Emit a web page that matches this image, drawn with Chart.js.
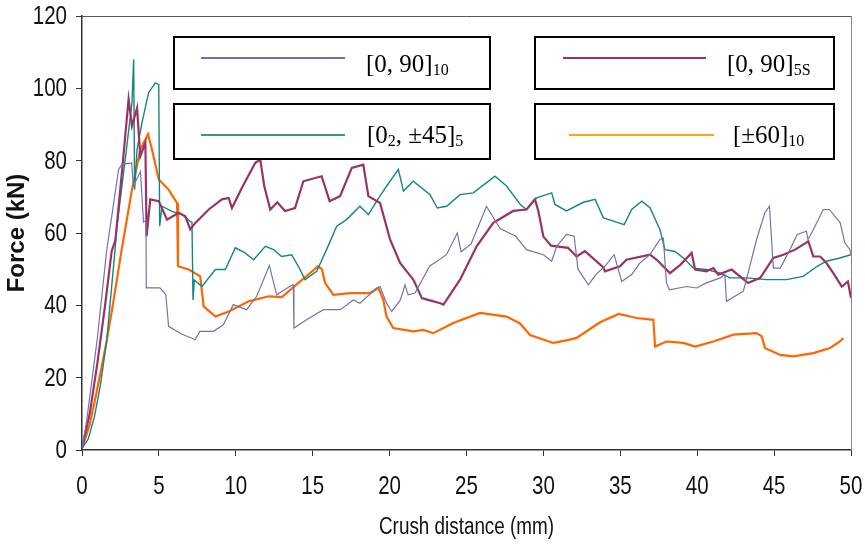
<!DOCTYPE html>
<html>
<head>
<meta charset="utf-8">
<script src="https://cdn.jsdelivr.net/npm/chart.js@4"></script>
<style>
  html, body { margin: 0; padding: 0; background: #fff; }
</style>
</head>
<body>
<canvas id="myChart" width="865" height="545"></canvas>
<script>
// Datos: distancia de aplastamiento (mm) y fuerza (kN)
const xTicks = [0, 5, 10, 15, 20, 25, 30, 35, 40, 45, 50];
const yTicks = [0, 20, 40, 60, 80, 100, 120];

const seriesNames = ['[0, 90]10', '[0, 90]5S', '[02, ±45]5', '[±60]10'];

const blueX = [0, 0.3, 1.0, 1.6, 2.38, 2.6, 3.23, 3.34, 3.8, 4.0, 4.16, 4.18, 5.07, 5.45, 5.63, 6.5, 7.15, 7.35, 7.67, 8.54, 9.19, 9.84, 10.7, 11.36, 12.18, 12.66, 13.5, 13.74, 13.78, 14.6, 15.7, 16.8, 17.64, 18.07, 19.16, 19.38, 19.8, 20.14, 20.7, 21.0, 21.2, 21.65, 22.6, 23.7, 24.4, 24.65, 25.3, 26.3, 27.18, 28.2, 28.9, 30.0, 30.54, 30.86, 31.5, 32.0, 32.25, 32.92, 33.46, 34.0, 34.6, 35.09, 35.74, 36.28, 36.93, 37.58, 37.8, 38.0, 38.2, 39.3, 39.96, 40.6, 41.5, 41.8, 41.9, 43.0, 43.2, 43.86, 44.4, 44.7, 44.95, 45.4, 46.03, 46.5, 47.1, 47.2, 47.55, 48.2, 48.6, 49.3, 49.6, 49.93, 50];
const blueY = [0.5, 8, 31, 55, 77.6, 79, 79.4, 73, 77, 63, 63.5, 44.8, 44.8, 43, 34.2, 32, 30.9, 30.5, 32.8, 32.8, 34.6, 40.2, 38.8, 42.5, 51, 42.9, 45.2, 45.7, 33.7, 36, 38.8, 38.8, 41.5, 40.6, 44.8, 45.2, 40.6, 38.3, 41.5, 45.7, 42.9, 43.4, 50.8, 54, 60, 54.8, 57, 67.4, 61.2, 59.1, 55.4, 54, 52.2, 56.3, 59.6, 59.1, 50, 45.7, 48.7, 50.8, 54, 46.6, 48.5, 51.7, 54, 58.2, 58.6, 46.2, 44.3, 45.2, 44.8, 46.2, 47.6, 48.5, 41.1, 43.9, 47.1, 58.2, 65.6, 67.4, 50.3, 50.3, 55.4, 59.6, 60.5, 58.2, 60.9, 66.5, 66.5, 62.8, 57.3, 55.4, 54];

const magentaX = [0, 0.5, 1.0, 1.5, 1.93, 2.17, 2.6, 3.03, 3.25, 3.58, 3.79, 4.12, 4.2, 4.44, 4.99, 5.53, 6.28, 6.72, 7.04, 7.37, 8.24, 9.1, 9.54, 9.75, 10.4, 11.27, 11.59, 11.85, 12.24, 12.7, 13.2, 13.85, 14.39, 15.58, 16.1, 16.78, 17.54, 18.29, 18.62, 19.38, 20.03, 20.68, 21.54, 22.1, 22.5, 23.3, 23.5, 24.58, 25.66, 26.74, 28.04, 28.9, 29.45, 29.67, 30.0, 30.5, 31.6, 32.16, 32.7, 33.9, 34.0, 34.98, 35.4, 36.93, 37.37, 38.23, 38.9, 39.64, 39.86, 40.6, 41.05, 41.37, 42.24, 42.9, 43.3, 44.1, 44.95, 45.6, 46.36, 47.23, 47.55, 48.0, 48.4, 48.85, 49.4, 49.8, 50];
const magentaY = [0.5, 10, 24, 40, 55, 58, 77, 97, 89.6, 94.6, 81.2, 85, 59.1, 69.3, 68.8, 63.7, 65.6, 64.6, 61, 62.8, 66.5, 69.3, 69.7, 66.9, 72.5, 79.4, 80.3, 73, 66.5, 68.5, 66.1, 66.9, 74.3, 75.7, 68.8, 70.2, 78, 78.9, 70.2, 68.3, 58.2, 51.7, 47.1, 42, 41.5, 40.6, 40.2, 47.1, 56.3, 62.8, 66.1, 66.5, 69.3, 66.1, 59, 56.5, 55.9, 53.5, 55, 50.5, 49.4, 50.8, 52.6, 54, 52.6, 48.9, 51.2, 54.5, 49.9, 49.4, 50.3, 48.5, 49.9, 47.6, 46.2, 47.6, 53.1, 54, 55.4, 57.7, 53.5, 53.5, 51.7, 48.9, 45.2, 46.6, 42];

const tealX = [0, 0.4, 0.8, 1.2, 1.6, 2.15, 2.25, 2.8, 3.25, 3.36, 3.42, 3.58, 3.9, 4.33, 4.77, 4.99, 5.05, 5.2, 5.85, 6.5, 7.04, 7.15, 7.22, 7.3, 7.8, 8.67, 9.32, 9.97, 10.6, 11.16, 11.92, 12.46, 12.98, 13.63, 14.07, 14.5, 15.26, 15.9, 16.56, 17.2, 18.07, 18.62, 19.16, 19.81, 20.57, 20.9, 21.54, 22.63, 23.1, 23.71, 24.58, 25.44, 26.85, 27.6, 28.5, 28.9, 29.56, 30.54, 30.75, 31.5, 32.6, 33.36, 33.9, 34.6, 35.25, 35.74, 36.4, 36.93, 37.58, 37.9, 38.56, 39.1, 39.75, 40.6, 41.5, 42.13, 43.2, 44.5, 45.8, 46.9, 47.8, 48.4, 49.28, 50];
const tealY = [0.5, 3, 9, 18, 30, 55.4, 61, 80, 96, 108, 72, 83.1, 90.5, 98.8, 101.5, 101.1, 61.9, 67.4, 66, 65.1, 63.2, 63, 41.5, 47, 45.2, 49.9, 49.9, 55.9, 54.5, 52.6, 56.3, 55.4, 53.5, 54, 50.8, 47.1, 49.4, 55.4, 61.9, 63.7, 67.4, 65.1, 68.8, 73, 77.6, 71.6, 74.3, 70.6, 66.9, 67.4, 70.6, 71.1, 75.7, 73, 67.9, 66.5, 69.7, 71.1, 67.9, 66.1, 68.5, 69.3, 64.2, 63.2, 62.3, 66.5, 68.8, 67, 60.9, 55.4, 54.9, 53.1, 50.3, 49.9, 48.9, 47.6, 47.6, 47.1, 47.1, 48, 50.8, 52.2, 53.1, 54];

const orangeX = [0, 0.5, 1.0, 1.6, 2.0, 2.58, 3.25, 3.79, 4.29, 4.55, 4.99, 5.63, 6.18, 6.24, 6.94, 7.69, 7.91, 8.67, 9.54, 10.84, 12.14, 13.0, 14.07, 15.36, 15.6, 15.8, 16.34, 17.43, 18.73, 19.27, 19.59, 19.8, 20.24, 21.54, 22.2, 22.84, 24.14, 25.88, 27.6, 28.48, 29.13, 30.64, 31.5, 32.16, 33.68, 34.9, 36.07, 37.15, 37.26, 38.0, 39.1, 39.86, 41.05, 42.35, 43.86, 44.2, 44.4, 45.4, 46.25, 47.55, 48.64, 49.28, 49.5];
const orangeY = [0.5, 7, 17, 30, 40, 55.4, 72, 83.1, 87.3, 83.1, 74.8, 72, 68.3, 50.8, 49.9, 48, 39.7, 36.9, 38.3, 41.1, 42.5, 42.3, 46.2, 50.8, 50, 46.2, 42.9, 43.4, 43.4, 44.8, 41.5, 36.9, 33.7, 32.8, 33.2, 32.3, 35.1, 37.9, 36.9, 35, 31.8, 29.6, 30.3, 31, 35.3, 37.6, 36.5, 36, 28.6, 30, 29.6, 28.6, 30, 31.9, 32.3, 31.4, 28.2, 26.3, 25.9, 26.8, 28.2, 30, 31];

function puntos(xs, ys) {
  return xs.map((x, i) => ({ x: x, y: ys[i] }));
}

// Leyenda en cajas separadas, con subindices
const legendItems = [
  { parts: [['[0, 90]', false], ['10', true]], color: '#6f6db3', box: [174, 37, 316, 52], line: [201, 345, 58], text: [366, 72] },
  { parts: [['[0, 90]', false], ['5S', true]], color: '#9b3068', box: [535, 37, 299, 52], line: [563, 706, 58], text: [727, 72] },
  { parts: [['[0', false], ['2', true], [', ±45]', false], ['5', true]], color: '#3a9a6a', box: [174, 104, 316, 55], line: [201, 345, 135], text: [367, 143] },
  { parts: [['[±60]', false], ['10', true]], color: '#ffa31a', box: [535, 104, 299, 55], line: [569, 714, 135], text: [733, 143] }
];

// texto estrecho como en la figura original (escala horizontal)
function textoEstrecho(ctx, txt, x, y, align) {
  ctx.save();
  ctx.translate(x, y);
  ctx.scale(0.82, 1);
  ctx.textAlign = align;
  ctx.fillText(txt, 0, 0);
  ctx.restore();
}

const boxLegend = {
  id: 'boxLegend',
  afterDatasetsDraw(chart) {
    const ctx = chart.ctx;
    const area = chart.chartArea;
    ctx.save();
    // marco superior y derecho
    ctx.lineWidth = 1;
    ctx.beginPath();
    ctx.moveTo(area.left, area.top + 0.5);
    ctx.lineTo(area.right + 0.5, area.top + 0.5);
    ctx.strokeStyle = '#555';
    ctx.stroke();
    ctx.beginPath();
    ctx.moveTo(area.right + 0.5, area.top);
    ctx.lineTo(area.right + 0.5, area.bottom);
    ctx.strokeStyle = '#888';
    ctx.stroke();

    legendItems.forEach(function(item) {
      const b = item.box;
      ctx.fillStyle = '#fff';
      ctx.fillRect(b[0], b[1], b[2], b[3]);
      ctx.lineWidth = 2;
      ctx.strokeStyle = '#000';
      ctx.strokeRect(b[0], b[1], b[2], b[3]);
      ctx.lineWidth = 2;
      ctx.strokeStyle = item.color;
      ctx.beginPath();
      ctx.moveTo(item.line[0], item.line[2]);
      ctx.lineTo(item.line[1], item.line[2]);
      ctx.stroke();
      let x = item.text[0];
      ctx.fillStyle = '#000';
      ctx.textBaseline = 'alphabetic';
      ctx.textAlign = 'left';
      item.parts.forEach(function(p) {
        if (p[1]) {
          ctx.font = '16px "Liberation Serif", serif';
          ctx.fillText(p[0], x, item.text[1] + 3);
        } else {
          ctx.font = '25px "Liberation Serif", serif';
          ctx.fillText(p[0], x, item.text[1]);
        }
        x += ctx.measureText(p[0]).width;
      });
    });
    ctx.restore();
  },
  afterDraw(chart) {
    // etiquetas de los ejes, en las posiciones que dan las escalas
    const ctx = chart.ctx;
    const sx = chart.scales.x;
    const sy = chart.scales.y;
    ctx.save();
    ctx.fillStyle = '#111';
    ctx.textBaseline = 'middle';
    ctx.font = '25px "Liberation Sans", Arial, sans-serif';
    sx.ticks.forEach(function(t) {
      textoEstrecho(ctx, String(t.value), sx.getPixelForValue(t.value), sx.top + 37, 'center');
    });
    sy.ticks.forEach(function(t) {
      textoEstrecho(ctx, String(t.value), sy.right - 15, sy.getPixelForValue(t.value) + 1, 'right');
    });
    ctx.font = '23px "Liberation Sans", Arial, sans-serif';
    textoEstrecho(ctx, 'Crush distance (mm)', (sx.left + sx.right) / 2, sx.top + 78, 'center');
    ctx.restore();
  }
};

const canva = document.getElementById('myChart').getContext('2d');

const myChart = new Chart(canva, {
  type: 'line',
  data: {
    datasets: [
      { label: seriesNames[0], data: puntos(blueX, blueY), borderColor: '#7672b0', borderWidth: 1.2 },
      { label: seriesNames[1], data: puntos(magentaX, magentaY), borderColor: '#993366', borderWidth: 2.2 },
      { label: seriesNames[2], data: puntos(tealX, tealY), borderColor: '#13877f', borderWidth: 1.4 },
      { label: seriesNames[3], data: puntos(orangeX, orangeY), borderColor: '#ff6600', borderWidth: 2.2 }
    ]
  },
  options: {
    responsive: false,
    animation: false,
    devicePixelRatio: 1,
    layout: { padding: { top: 16, right: 14, left: 0, bottom: 0 } },
    elements: { point: { radius: 0 }, line: { tension: 0, fill: false } },
    plugins: {
      legend: { display: false },
      tooltip: { enabled: false },
      title: { display: false }
    },
    scales: {
      x: {
        type: 'linear',
        min: 0,
        max: 50,
        afterBuildTicks: function(scale) { scale.ticks = xTicks.map(v => ({ value: v })); },
        afterFit: function(scale) { scale.height = 95; },
        ticks: { display: false },
        grid: { drawOnChartArea: false, drawTicks: true, tickLength: 6, color: '#333' },
        border: { display: true, color: '#333', width: 1.5 },
        title: { display: false, text: 'Crush distance (mm)' }
      },
      y: {
        min: 0,
        max: 120,
        afterBuildTicks: function(scale) { scale.ticks = yTicks.map(v => ({ value: v })); },
        afterFit: function(scale) { scale.width = 82; },
        ticks: { display: false },
        grid: { drawOnChartArea: false, drawTicks: true, tickLength: 6, color: '#333' },
        border: { display: true, color: '#333', width: 1.5 },
        title: {
          display: true,
          text: 'Force (kN)',
          color: '#111',
          font: { family: '"Liberation Sans", Arial, sans-serif', size: 24, weight: 'bold' },
          padding: { top: 3, bottom: 0 }
        }
      }
    }
  },
  plugins: [boxLegend]
});
</script>
</body>
</html>
